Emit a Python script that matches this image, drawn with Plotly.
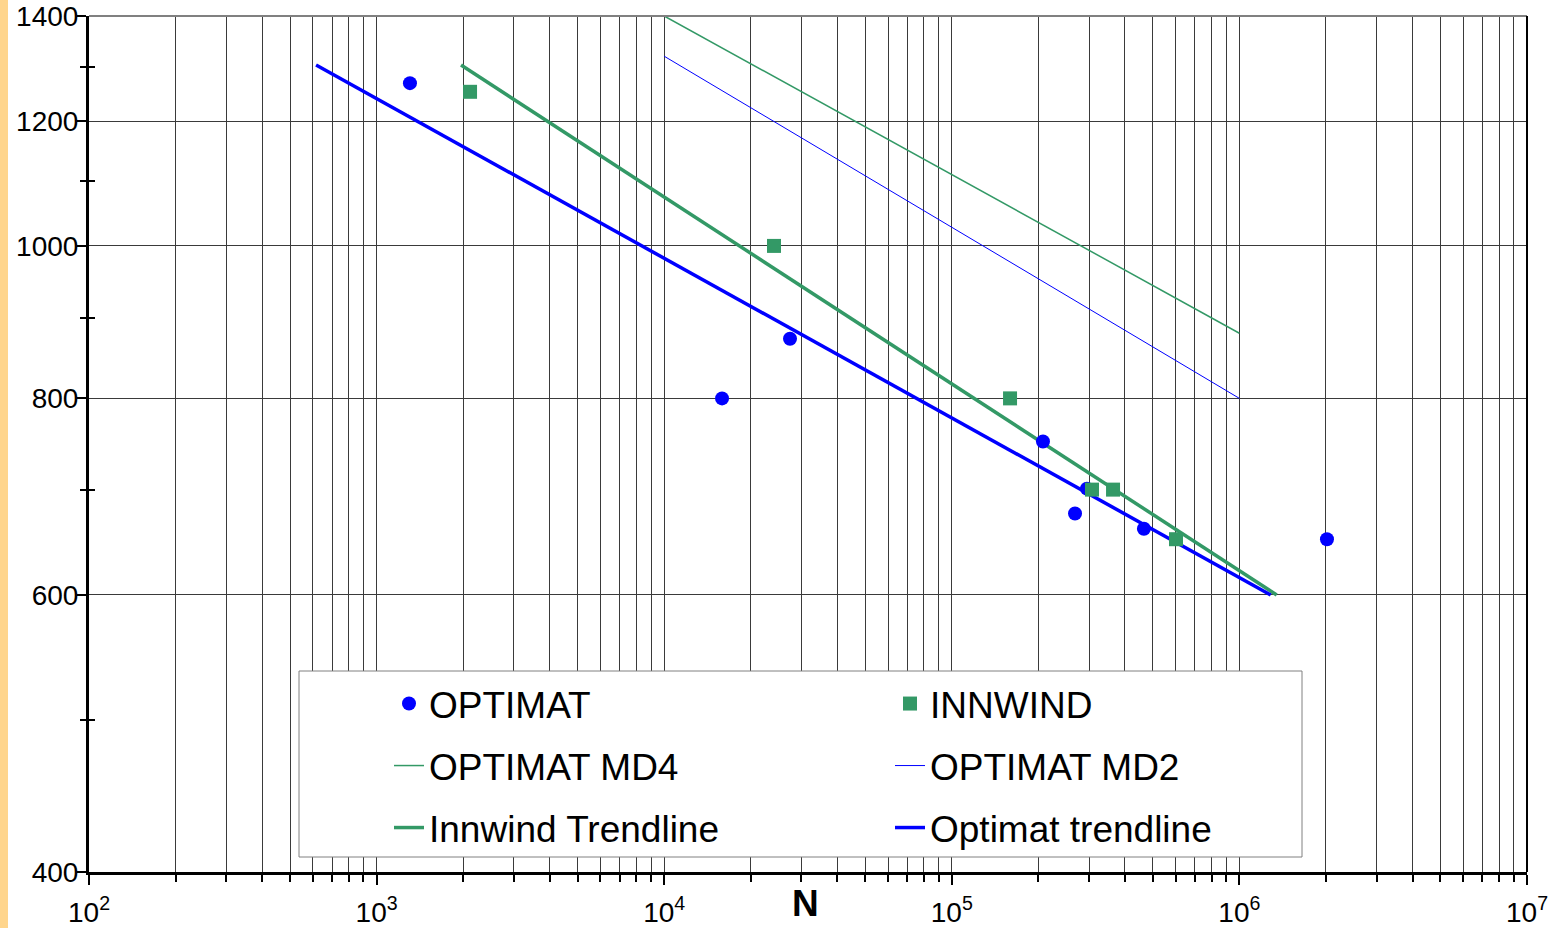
import plotly.graph_objects as go

# ---- data ----
optimat_N = [1306, 15890, 27380, 207500, 268200, 295000, 465600, 2016000]
optimat_S = [1269, 800, 873, 751, 676, 701, 661, 651]

innwind_N = [2113, 24090, 159400, 307300, 363600, 602000]
innwind_S = [1253, 1000, 800, 700, 700, 651]

md4_N = [1e4, 1e6]
md4_S = [1400, 880]

md2_N = [1e4, 1e6]
md2_S = [1320, 800]

innwind_trend_N = [1966, 1348000]
innwind_trend_S = [1303, 600]

optimat_trend_N = [616, 1285000]
optimat_trend_S = [1303, 600]

x_major = [1e2, 1e3, 1e4, 1e5, 1e6, 1e7]
x_major_text = ["10<sup>2</sup>", "10<sup>3</sup>", "10<sup>4</sup>",
                "10<sup>5</sup>", "10<sup>6</sup>", "10<sup>7</sup>"]
x_minor = [m * 10 ** e for e in range(2, 7) for m in range(2, 10)]
y_major = [400, 600, 800, 1000, 1200, 1400]
y_minor = [500, 700, 900, 1100, 1300]

BLUE = "#0000FF"
GREEN = "#339966"
FONT = "Arial, Liberation Sans, sans-serif"

W, H = 1551, 928
L, R, T, B = 89, 24, 16, 56
PW, PH = W - L - R, H - T - B


def px_x(px):
    return (px - L) / PW


def px_y(py):
    return (H - B - py) / PH


fig = go.Figure()

fig.add_trace(go.Scatter(x=md4_N, y=md4_S, mode="lines", name="OPTIMAT MD4",
                         line=dict(color=GREEN, width=1.5), legend="legend2"))
fig.add_trace(go.Scatter(x=md2_N, y=md2_S, mode="lines", name="OPTIMAT MD2",
                         line=dict(color=BLUE, width=1), legend="legend2"))
fig.add_trace(go.Scatter(x=innwind_trend_N, y=innwind_trend_S, mode="lines", name="Innwind Trendline",
                         line=dict(color=GREEN, width=3.5), legend="legend3"))
fig.add_trace(go.Scatter(x=optimat_trend_N, y=optimat_trend_S, mode="lines", name="Optimat trendline",
                         line=dict(color=BLUE, width=3.5), legend="legend3"))
fig.add_trace(go.Scatter(x=optimat_N, y=optimat_S, mode="markers", name="OPTIMAT",
                         marker=dict(symbol="circle", size=14, color=BLUE), legend="legend"))
fig.add_trace(go.Scatter(x=innwind_N, y=innwind_S, mode="markers", name="INNWIND",
                         marker=dict(symbol="square", size=14, color=GREEN), legend="legend"))

# invisible trace for the inside tick axis
fig.add_trace(go.Scatter(x=[], y=[], yaxis="y2", showlegend=False, hoverinfo="skip"))

legend_common = dict(orientation="h", font=dict(family=FONT, size=37, color="black"),
                     bgcolor="rgba(0,0,0,0)", borderwidth=0,
                     entrywidth=456, entrywidthmode="pixels",
                     xanchor="left", yanchor="middle", traceorder="normal")
lx = px_x(389)

fig.update_layout(
    template="none",
    width=W, height=H,
    margin=dict(l=L, r=R, t=T, b=B, pad=0, autoexpand=False),
    paper_bgcolor="white", plot_bgcolor="white",
    font=dict(family=FONT, color="black"),
    showlegend=True,
    legend=dict(**legend_common, x=lx, y=px_y(704)),
    legend2=dict(**legend_common, x=lx, y=px_y(766)),
    legend3=dict(**legend_common, x=lx, y=px_y(828)),
    xaxis=dict(
        type="log", range=[2, 7], automargin=False,
        tickmode="array", tickvals=x_major, ticktext=x_major_text,
        tickfont=dict(family=FONT, size=28, color="black"),
        ticks="outside", ticklen=10, tickwidth=2, tickcolor="black",
        ticklabelstandoff=3,
        showgrid=True, gridcolor="#3a3a3a", gridwidth=1,
        minor=dict(tickmode="array", tickvals=x_minor, ticks="outside", ticklen=7,
                   tickwidth=1.5, tickcolor="black", showgrid=True,
                   gridcolor="#3a3a3a", gridwidth=1),
        showline=True, linecolor="black", linewidth=3, mirror=False,
        zeroline=False,
    ),
    yaxis=dict(
        type="log", range=[2.6020600, 3.1461280], automargin=False,
        tickmode="array", tickvals=y_major, ticktext=[str(v) for v in y_major],
        tickfont=dict(family=FONT, size=28, color="black"),
        ticks="outside", ticklen=9, tickwidth=2, tickcolor="black",
        ticklabelstandoff=-7,
        showgrid=True, gridcolor="#3a3a3a", gridwidth=1,
        minor=dict(tickmode="array", tickvals=y_minor, ticks="outside", ticklen=6,
                   tickwidth=1.5, tickcolor="black", showgrid=False),
        showline=True, linecolor="black", linewidth=3, mirror=False,
        zeroline=False,
    ),
    yaxis2=dict(
        type="log", range=[2.6020600, 3.1461280], overlaying="y", side="left",
        automargin=False,
        tickmode="array", tickvals=y_minor, showticklabels=False,
        ticks="inside", ticklen=6, tickwidth=1.5, tickcolor="black",
        showgrid=False, showline=False, zeroline=False,
    ),
    annotations=[dict(text="<b>N</b>", x=px_x(805), y=px_y(903), xref="paper", yref="paper",
                      xanchor="center", yanchor="middle", showarrow=False,
                      font=dict(family=FONT, size=37, color="black"))],
    shapes=[
        # legend box
        dict(type="rect", xref="paper", yref="paper",
             x0=px_x(299), x1=px_x(1302), y0=px_y(857), y1=px_y(671),
             fillcolor="white", line=dict(color="#808080", width=1), layer="above"),
        # top border
        dict(type="line", xref="paper", yref="paper", x0=0, x1=1, y0=1, y1=1,
             line=dict(color="#808080", width=2)),
        # right border
        dict(type="line", xref="paper", yref="paper", x0=1, x1=1, y0=0, y1=1,
             line=dict(color="black", width=2)),
        # tan strip on the left edge
        dict(type="rect", xref="paper", yref="paper",
             x0=px_x(0), x1=px_x(8), y0=px_y(H), y1=px_y(0),
             fillcolor="#FFD58C", line=dict(width=0), layer="below"),
    ],
)

fig.write_html("out.html")
